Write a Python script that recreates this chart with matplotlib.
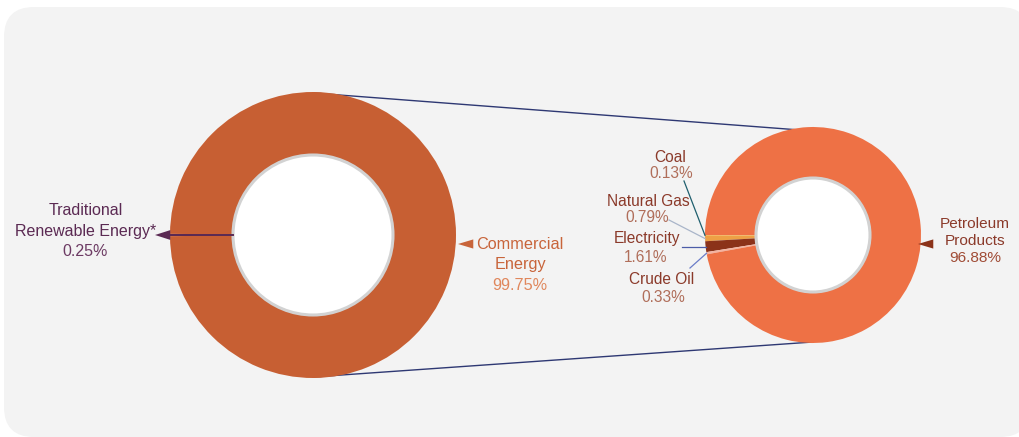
import numpy as np
import matplotlib.pyplot as plt
from matplotlib.patches import Circle, FancyBboxPatch

plt.rcParams['font.family'] = ['Liberation Sans', 'DejaVu Sans']

# Energy supply shares (%)
supply_labels = ['Traditional\nRenewable Energy*', 'Commercial\nEnergy']
supply_shares = [0.25, 99.75]
supply_colors = ['#4f1c47', '#c75f33']

commercial_labels = ['Coal', 'Natural Gas', 'Electricity', 'Crude Oil', 'Petroleum\nProducts']
commercial_shares = [0.13, 0.79, 1.61, 0.33, 96.88]
commercial_colors = ['#f6b24e', '#eea045', '#8b3219', '#f5b3a0', '#ee7145']

W, H = 1020, 437


def Y(py):
    """pixel row (from top) -> data y"""
    return H - py


fig = plt.figure(figsize=(W / 100, H / 100), dpi=100)
ax = fig.add_axes([0, 0, 1, 1])

ax.add_patch(FancyBboxPatch((4, Y(437)), 1026, 430,
                            boxstyle='round,pad=0,rounding_size=30',
                            facecolor='#f3f3f3', edgecolor='none', zorder=0))

# ── donuts ───────────────────────────────────────────────────────────────────
c1, r1_out, r1_in = (313, Y(235)), 143, 80
c2, r2_out, r2_in = (813, Y(235)), 108, 57

# centre the small slice on 9 o'clock
start1 = 180 - supply_shares[0] / sum(supply_shares) * 360 / 2
ax.pie(supply_shares, colors=supply_colors, startangle=start1, radius=r1_out,
       center=c1, frame=True,
       wedgeprops=dict(width=r1_out - r1_in, edgecolor='none', zorder=3))

wedges2, _ = ax.pie(commercial_shares, colors=commercial_colors, startangle=180,
                    radius=r2_out, center=c2, frame=True,
                    wedgeprops=dict(width=r2_out - r2_in, edgecolor='none', zorder=3))

for c, r in [(c1, r1_in), (c2, r2_in)]:
    ax.add_patch(Circle(c, r, facecolor='white', edgecolor='#d2d2d2',
                        linewidth=2.2, zorder=4))

# zoom connector lines (drawn under the donuts)
line_c = '#2e3873'
ax.plot([313, 813], [Y(93), Y(131)], color=line_c, lw=1.0, zorder=1)
ax.plot([313, 813], [Y(377), Y(342)], color=line_c, lw=1.0, zorder=1)

# ── left donut labels ────────────────────────────────────────────────────────
purple = '#5b2a53'
ax.plot([c1[0] - r1_in, 170], [c1[1], c1[1]], color=purple, lw=1.4, zorder=5)
ax.annotate('', xy=(155, c1[1]), xytext=(171, c1[1]),
            arrowprops=dict(arrowstyle='-|>,head_length=1.0,head_width=0.32',
                            color=purple, lw=0, mutation_scale=11,
                            shrinkA=0, shrinkB=0), zorder=5)
for txt, py in zip(supply_labels[0].split('\n'), [211, 232]):
    ax.text(86, Y(py), txt, ha='center', va='center', fontsize=11.5, color=purple)
ax.text(85, Y(252), f'{supply_shares[0]:.2f}%', ha='center', va='center',
        fontsize=11.5, color='#6c3a63')

orange = '#c8643a'
ax.annotate('', xy=(458, Y(244)), xytext=(473, Y(244)),
            arrowprops=dict(arrowstyle='-|>,head_length=1.0,head_width=0.3',
                            color=orange, lw=0, mutation_scale=11,
                            shrinkA=0, shrinkB=0), zorder=5)
for txt, py in zip(supply_labels[1].split('\n'), [245, 265]):
    ax.text(520, Y(py), txt, ha='center', va='center', fontsize=11.7, color=orange)
ax.text(520, Y(285), f'{supply_shares[1]:.2f}%', ha='center', va='center',
        fontsize=11.7, color='#e0875c')

# ── right donut labels ───────────────────────────────────────────────────────
brown = '#8b3a2a'
pct_c = '#b06e5a'

ax.annotate('', xy=(918, Y(244)), xytext=(933, Y(244)),
            arrowprops=dict(arrowstyle='-|>,head_length=1.0,head_width=0.3',
                            color='#8b3219', lw=0, mutation_scale=11,
                            shrinkA=0, shrinkB=0), zorder=5)
for txt, py in zip(commercial_labels[4].split('\n'), [224, 241]):
    ax.text(975, Y(py), txt, ha='center', va='center', fontsize=11.1, color=brown)
ax.text(975, Y(258), f'{commercial_shares[4]:.2f}%', ha='center', va='center',
        fontsize=11.1, color='#a04c36')

# small slices: name pos, pct pos, leader start, leader colour
small = [
    ((670, 157), (671, 173), (684, 181), '#1f5f6e'),
    ((648, 202), (647, 218), (669, 220), '#a9b5c9'),
    ((647, 239), (646, 258), (682, 247), '#4c5ca8'),
    ((662, 279), (663, 298), (690, 268), '#6a7cc8'),
]
for w, name, share, (npos, ppos, lstart, lc) in zip(
        wedges2[:4], commercial_labels[:4], commercial_shares[:4], small):
    ang = np.deg2rad((w.theta1 + w.theta2) / 2)
    ex = c2[0] + r2_out * np.cos(ang)
    ey = c2[1] + r2_out * np.sin(ang)
    if name == 'Electricity':
        ey = Y(lstart[1])
    ax.plot([lstart[0], ex], [Y(lstart[1]), ey], color=lc, lw=0.9, zorder=5)
    ax.text(npos[0], Y(npos[1]), name, ha='center', va='center',
            fontsize=11.2, color=brown)
    ax.text(ppos[0], Y(ppos[1]), f'{share:.2f}%', ha='center', va='center',
            fontsize=11.2, color=pct_c)

ax.set_xlim(0, W)
ax.set_ylim(0, H)
ax.set_aspect('equal')
ax.axis('off')

fig.savefig('out.png', dpi=100, facecolor='white')
